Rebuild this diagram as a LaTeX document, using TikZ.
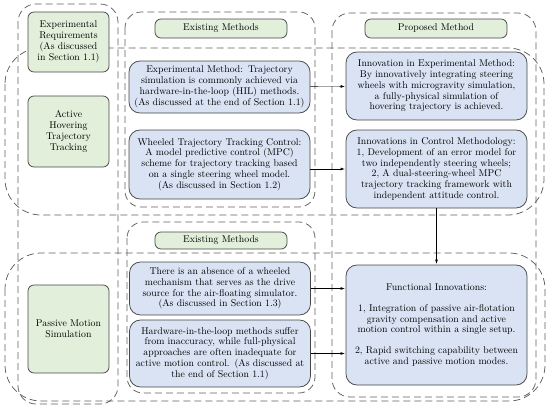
\documentclass[tikz,border=0pt]{standalone}
\usepackage{tikz}
\usetikzlibrary{positioning}
\definecolor{boxgreen}{RGB}{226,239,218}
\definecolor{boxblue}{RGB}{218,227,243}
\definecolor{edgegray}{RGB}{70,70,70}
\definecolor{dashgray}{RGB}{95,95,95}

\begin{document}
\begin{tikzpicture}[x=1pt,y=-1pt,shorten >=1pt,->,>=latex]
  \tikzstyle{region}=[draw=dashgray, -, shorten >=0pt, dash pattern=on 7pt off 4pt, line width=0.75pt]
  \tikzstyle{greenbox}=[rectangle, rounded corners=6pt, draw=edgegray, fill=boxgreen, line width=0.75pt, align=center, inner sep=0pt, font=\fontsize{9.8}{10.8}\selectfont]
  \tikzstyle{reqbox}=[greenbox, text width=81pt, minimum width=81pt]
  \tikzstyle{bluebox}=[rectangle, rounded corners=11pt, draw=edgegray, fill=boxblue, line width=0.75pt, align=center, inner sep=0pt, text width=181pt, minimum width=181pt, font=\fontsize{9.8}{10.8}\selectfont]
  \useasboundingbox (0,0) rectangle (550,410);

  \draw[region, rounded corners=18pt] (18,4) rectangle (118,404);
  \draw[region, rounded corners=16pt] (125,12) rectangle (315,207);
  \draw[region, rounded corners=16pt] (127,222) rectangle (315,393);
  \draw[region, rounded corners=18pt] (332,13) rectangle (536,397);
  \draw[region, rounded corners=36pt] (5,48) rectangle (544,215);
  \draw[region, rounded corners=36pt] (5,253) rectangle (545,401);

  \node[reqbox, minimum height=60pt] (R_1) at (68.5,42) {Experimental\\Requirements\\(As discussed\\in Section 1.1)};
  \node[reqbox, minimum height=71pt] (R_2) at (68.5,131.5) {Active\\Hovering\\Trajectory\\Tracking};
  \node[reqbox, minimum height=88pt] (R_3) at (68.5,329) {Passive Motion\\Simulation};

  \node[greenbox, minimum width=132pt, minimum height=19pt] (H_1) at (221,28.5) {Existing Methods};
  \node[greenbox, minimum width=142pt, minimum height=19pt] (H_2) at (436,28.5) {Proposed Method};
  \node[greenbox, minimum width=132pt, minimum height=17pt] (H_3) at (221,240.5) {Existing Methods};

  \node[bluebox, minimum height=52pt] (E_1) at (219.5,87) {Experimental Method: Trajectory\\simulation is commonly achieved via\\hardware-in-the-loop (HIL) methods.\\(As discussed at the end of Section 1.1)};
  \node[bluebox, minimum height=69pt] (E_2) at (219.5,164.5) {Wheeled Trajectory Tracking Control:\\A model predictive control (MPC)\\scheme for trajectory tracking based\\on a single steering wheel model.\\(As discussed in Section 1.2)};
  \node[bluebox, minimum height=53pt] (E_3) at (220,288.5) {There is an absence of a wheeled\\mechanism that serves as the drive\\source for the air-floating simulator.\\(As discussed in Section 1.3)};
  \node[bluebox, minimum height=67pt] (E_4) at (220,353.5) {Hardware-in-the-loop methods suffer\\from inaccuracy, while full-physical\\approaches are often inadequate for\\active motion control. (As discussed at\\the end of Section 1.1)};

  \node[bluebox, minimum height=68pt] (P_1) at (436.5,86) {Innovation in Experimental Method:\\By innovatively integrating steering\\wheels with microgravity simulation,\\a fully-physical simulation of\\hovering trajectory is achieved.};
  \node[bluebox, minimum height=78pt] (P_2) at (436.5,169) {Innovations in Control Methodology:\\1, Development of an error model for\\two independently steering wheels;\\2, A dual-steering-wheel MPC\\trajectory tracking framework with\\independent attitude control.};
  \node[bluebox, minimum height=120pt] (P_3) at (436.5,325) {Functional Innovations:\\[10pt]1, Integration of passive air-flotation\\gravity compensation and active\\motion control within a single setup.\\[10pt]2, Rapid switching capability between\\active and passive motion modes.};

  \draw (E_1) -- (P_1);
  \draw (E_2.east |- P_2.west) -- (P_2.west);
  \draw (P_2) -- (P_3);
  \draw (E_3.east) -- (E_3.east -| P_3.west);
  \draw (E_4.east) -- (E_4.east -| P_3.west);
\end{tikzpicture}
\end{document}
